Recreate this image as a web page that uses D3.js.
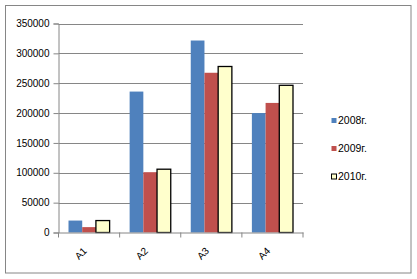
<!DOCTYPE html>
<html>
<head>
<meta charset="utf-8">
<script src="https://cdn.jsdelivr.net/npm/d3@7"></script>
<style>
    body { margin: 0; background: #fff; }
    text { font-family: "Liberation Sans", Arial, sans-serif; font-size: 10px; fill: #000; }
</style>
</head>
<body>
<div id="chart"></div>
<script>
const categories = ['A1', 'A2', 'A3', 'A4']
const seriesNames = ['2008г.', '2009г.', '2010г.']
const values2008 = [20000, 236000, 321500, 200000]
const values2009 = [9000, 101000, 267500, 217000]
const values2010 = [20000, 106000, 278000, 246500]
const yTicks = [0, 50000, 100000, 150000, 200000, 250000, 300000, 350000]

const colors = ['#4F81BD', '#C0504D', '#FFFFCC']
const strokes = ['none', 'none', '#000']

const width = 417
const height = 279
const margin = { left: 58.5, top: 23.5, right: 114, bottom: 46.5 }

const svg = d3.select('#chart')
    .append('svg')
    .attr('width', width)
    .attr('height', height)

// outer frame
svg.append('rect')
    .attr('x', 5.5)
    .attr('y', 5.5)
    .attr('width', 405.5)
    .attr('height', 267.5)
    .attr('fill', '#fff')
    .attr('stroke', '#868686')

const x = d3.scaleBand()
    .domain(categories)
    .range([margin.left, width - margin.right])

const inner = d3.scaleBand()
    .domain(d3.range(seriesNames.length))
    .range([0, x.bandwidth()])
    .paddingOuter(0.73)

const y = d3.scaleLinear()
    .domain([0, 350000])
    .range([height - margin.bottom, margin.top])

// gridlines
svg.append('g')
    .selectAll('line')
    .data(yTicks.slice(1))
    .join('line')
    .attr('x1', margin.left)
    .attr('x2', width - margin.right)
    .attr('y1', d => Math.round(y(d)) + 0.5)
    .attr('y2', d => Math.round(y(d)) + 0.5)
    .attr('stroke', '#868686')

const data = [values2008, values2009, values2010]
const groups = svg.append('g')
    .selectAll('g')
    .data(data)
    .join('g')
    .attr('fill', (d, i) => colors[i])
    .attr('stroke', (d, i) => strokes[i])
    .attr('stroke-width', 1.3)

groups.each(function (vals, si) {
    d3.select(this).selectAll('rect')
        .data(vals)
        .join('rect')
        .attr('x', (d, ci) => x(categories[ci]) + inner(si))
        .attr('width', inner.bandwidth())
        .attr('y', d => y(d))
        .attr('height', d => y(0) - y(d))
})

// y axis
const yAxis = d3.axisLeft(y)
    .tickValues(yTicks)
    .tickSize(5)
    .tickFormat(d3.format('d'))

svg.append('g')
    .attr('transform', `translate(${margin.left},0)`)
    .call(yAxis)
    .call(g => g.selectAll('line, path').attr('stroke', '#868686'))
    .call(g => g.selectAll('text').attr('x', -9))

// x axis
const xAxis = d3.axisBottom(x)
    .tickValues([])
    .tickSizeOuter(0)

const xg = svg.append('g')
    .attr('transform', `translate(0,${y(0)})`)
    .call(xAxis)
    .call(g => g.select('path').attr('stroke', '#868686'))

xg.selectAll('line.tk')
    .data(categories.concat(['end']))
    .join('line')
    .attr('class', 'tk')
    .attr('x1', (d, i) => margin.left + i * x.bandwidth())
    .attr('x2', (d, i) => margin.left + i * x.bandwidth())
    .attr('y1', 0)
    .attr('y2', 5)
    .attr('stroke', '#868686')

xg.selectAll('text.lbl')
    .data(categories)
    .join('text')
    .attr('class', 'lbl')
    .attr('text-anchor', 'end')
    .attr('transform', d => `translate(${x(d) + x.bandwidth() / 2 - 4},${16.5}) rotate(-45)`)
    .attr('dy', '0.35em')
    .text(d => d)

// legend
const legend = svg.append('g')
    .selectAll('g')
    .data(seriesNames)
    .join('g')
    .attr('transform', (d, i) => `translate(331,${120.5 + i * 28})`)

legend.append('rect')
    .attr('x', 0.5)
    .attr('y', -2.5)
    .attr('width', 5)
    .attr('height', 5)
    .attr('fill', (d, i) => colors[i])
    .attr('stroke', (d, i) => strokes[i])

legend.append('text')
    .attr('x', 7)
    .attr('dy', '0.35em')
    .style('font-size', '10.5px')
    .text(d => d)
</script>
</body>
</html>
